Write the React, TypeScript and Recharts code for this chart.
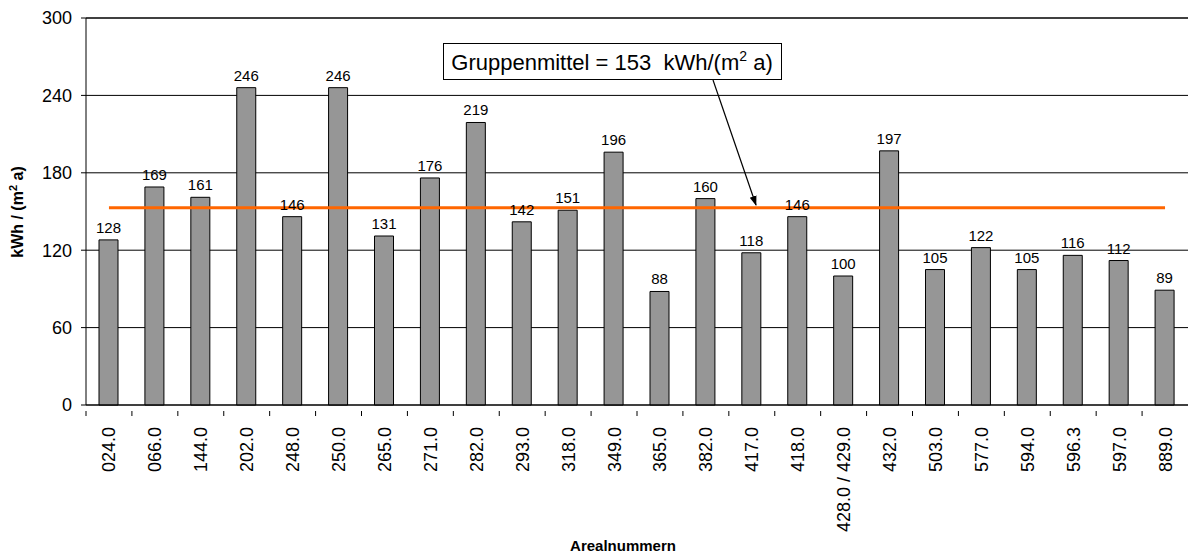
import React from 'react';
import {
  BarChart,
  Bar,
  XAxis,
  YAxis,
  CartesianGrid,
  ReferenceLine,
  LabelList,
  Customized,
} from 'recharts';

const areas = [
  '024.0', '066.0', '144.0', '202.0', '248.0', '250.0', '265.0', '271.0',
  '282.0', '293.0', '318.0', '349.0', '365.0', '382.0', '417.0', '418.0',
  '428.0 / 429.0', '432.0', '503.0', '577.0', '594.0', '596.3', '597.0', '889.0',
];
const consumption = [
  128, 169, 161, 246, 146, 246, 131, 176, 219, 142, 151, 196,
  88, 160, 118, 146, 100, 197, 105, 122, 105, 116, 112, 89,
];
const groupMean = 153;
const yTicks = [0, 60, 120, 180, 240, 300];

const FONT = 'Arial, "Liberation Sans", sans-serif';

const data = areas.map((a, i) => ({ area: a, value: consumption[i] }));

// x ticks sit on category boundaries, labels rotated
function AreaTick(props: any) {
  const { x, y, payload } = props;
  const band = 1102 / areas.length;
  return (
    <g>
      <line x1={x - band / 2} x2={x - band / 2} y1={y - 2} y2={y + 3} stroke="#000" />
      <text
        x={0}
        y={0}
        transform={`translate(${x + 6.5},${y + 14}) rotate(-90)`}
        textAnchor="end"
        fontSize={18}
        fontFamily={FONT}
        fill="#000"
      >
        {payload.value}
      </text>
    </g>
  );
}

function Annotation() {
  return (
    <g>
      <defs>
        <marker id="arrowHead" markerWidth="10" markerHeight="10" refX="9" refY="5" orient="auto" markerUnits="userSpaceOnUse">
          <path d="M0,1.5 L10,5 L0,8.5 z" fill="#000" />
        </marker>
      </defs>
      <line x1={713} y1={80} x2={756} y2={205} stroke="#000" strokeWidth={1.2} markerEnd="url(#arrowHead)" />
      <rect x={443.5} y={43.5} width={338} height={36} fill="#fff" stroke="#000" strokeWidth={1} />
      <text x={612} y={69.5} textAnchor="middle" fontSize={22} fontFamily={FONT} fill="#000" style={{ whiteSpace: 'pre' }}>
        {'Gruppenmittel = 153  kWh/(m'}
        <tspan fontSize={14} dy={-9}>2</tspan>
        <tspan dy={9}>{' a)'}</tspan>
      </text>
      <text
        x={0}
        y={0}
        transform="translate(23,212) rotate(-90)"
        textAnchor="middle"
        fontSize={16}
        fontWeight="bold"
        fontFamily={FONT}
        fill="#000"
      >
        {'kWh / (m'}
        <tspan fontSize={11} dy={-6}>2</tspan>
        <tspan dy={6}>{' a)'}</tspan>
      </text>
      <text x={623} y={551} textAnchor="middle" fontSize={15} fontWeight="bold" fontFamily={FONT} fill="#000">
        Arealnummern
      </text>
    </g>
  );
}

export default function App() {
  return (
    <div style={{ position: 'absolute', left: 0, top: 0, background: '#fff' }}>
      <BarChart
        width={1188}
        height={555}
        data={data}
        margin={{ top: 18, right: 0, bottom: 0, left: 0 }}
        barCategoryGap={0}
      >
        <CartesianGrid vertical={false} stroke="#000" strokeOpacity={1} />
        <XAxis
          dataKey="area"
          interval={0}
          height={150}
          tickLine={false}
          axisLine={{ stroke: '#000' }}
          tick={<AreaTick />}
        />
        <YAxis
          width={86}
          domain={[0, 300]}
          ticks={yTicks}
          tickSize={5}
          tickMargin={9}
          axisLine={{ stroke: '#000' }}
          tickLine={{ stroke: '#000' }}
          tick={{ fontSize: 18, fontFamily: FONT, fill: '#000' }}
        />
        <ReferenceLine y={300} stroke="#404040" strokeWidth={2} />
        <Bar dataKey="value" fill="#969696" stroke="#000" strokeWidth={1} barSize={19} isAnimationActive={false}>
          <LabelList dataKey="value" position="top" offset={7} fontSize={15} fontFamily={FONT} fill="#000" />
        </Bar>
        <ReferenceLine
          segment={[
            { x: areas[0], y: groupMean },
            { x: areas[areas.length - 1], y: groupMean },
          ]}
          stroke="#FF6600"
          strokeWidth={3}
        />
        <Customized component={<Annotation />} />
      </BarChart>
    </div>
  );
}
